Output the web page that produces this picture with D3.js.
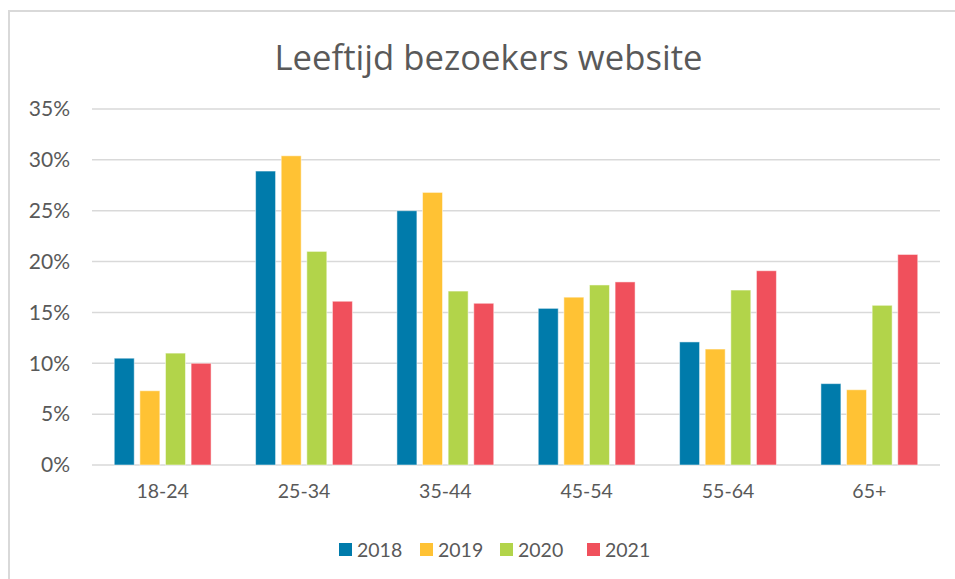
<!DOCTYPE html>
<html><head><meta charset="utf-8">
<script src="https://cdn.jsdelivr.net/npm/d3@7"></script>
<style>html,body{margin:0;padding:0;background:#fff;} svg{display:block;}</style>
</head><body>
<svg id="chart" width="955" height="579"></svg>
<script>
const title = "Leeftijd bezoekers website";
const categories = ["18-24","25-34","35-44","45-54","55-64","65+"];
const seriesNames = ["2018","2019","2020","2021"];
const s2018 = [10.5, 28.9, 25.0, 15.4, 12.1, 8.0];
const s2019 = [7.3, 30.4, 26.8, 16.5, 11.4, 7.4];
const s2020 = [11.0, 21.0, 17.1, 17.7, 17.2, 15.7];
const s2021 = [10.0, 16.1, 15.9, 18.0, 19.1, 20.7];
const yTicks = [0,5,10,15,20,25,30,35];
const colors = ["#007BAB","#FFC234","#B2D44A","#F0505C"];

(function(){
const seriesValues = [s2018, s2019, s2020, s2021];
const svg = d3.select("#chart");
const font = "Lato, 'Open Sans', sans-serif";

svg.append("rect").attr("x",9).attr("y",11).attr("width",960).attr("height",600)
  .attr("fill","#fff").attr("stroke","#d9d9d9").attr("stroke-width",2);

const t = svg.append("text").attr("x",488.5).attr("y",70).attr("text-anchor","middle")
  .attr("font-family","'Open Sans', sans-serif").attr("font-size",34).attr("fill","#595959")
  .text(title);
const tl = t.node().getComputedTextLength();
if (Math.abs(tl - 428) > 4) t.attr("textLength",428).attr("lengthAdjust","spacingAndGlyphs");

const pl = 92, pr = 940, pt = 109, pb = 465;
const y = d3.scaleLinear().domain([0,35]).range([pb, pt]);
const x0 = d3.scaleBand().domain(categories).range([pl,pr]).paddingInner(0.275).paddingOuter(0.1375);
const x1 = d3.scaleBand().domain(seriesNames).range([0, x0.bandwidth()]).paddingInner(0.22).paddingOuter(0.11);

svg.append("g").selectAll("line").data(yTicks).join("line")
  .attr("x1",pl).attr("x2",pr).attr("y1",d=>y(d)).attr("y2",d=>y(d))
  .attr("stroke","#d9d9d9").attr("stroke-width",1.5);

const yAxis = d3.axisLeft(y).tickValues(yTicks).tickFormat(d=>d+"%").tickSize(0).tickPadding(0);
const ya = svg.append("g").attr("transform",`translate(70,0)`).call(yAxis);
ya.select(".domain").remove();
ya.selectAll("text").attr("font-family",font).attr("font-size",21).attr("fill","#595959");

const groups = svg.append("g").selectAll("g").data(categories).join("g")
  .attr("transform",d=>`translate(${x0(d)},0)`);
groups.selectAll("rect").data((c,i)=>seriesNames.map((s,j)=>({s, v: seriesValues[j][i], j})))
  .join("rect")
  .attr("x",d=>x1(d.s)).attr("width",x1.bandwidth())
  .attr("y",d=>y(d.v)).attr("height",d=>y(0)-y(d.v))
  .attr("fill",d=>colors[d.j]).attr("stroke","#fff").attr("stroke-opacity",0.5).attr("stroke-width",1);

const xAxis = d3.axisBottom(x0).tickSize(0).tickPadding(0);
const xa = svg.append("g").attr("transform",`translate(0,498)`).call(xAxis);
xa.select(".domain").remove();
xa.selectAll("text").attr("font-family",font).attr("font-size",19.5).attr("fill","#595959").attr("dy","0");

const legX = [339, 420, 500, 587];
const leg = svg.append("g").selectAll("g").data(seriesNames).join("g")
  .attr("transform",(d,i)=>`translate(${legX[i]},543)`);
leg.append("rect").attr("width",13).attr("height",13).attr("fill",(d,i)=>colors[i]);
leg.append("text").attr("x",18).attr("y",13.5).attr("font-family",font).attr("font-size",19.5)
  .attr("fill","#595959").text(d=>d);
})();
</script>
</body></html>
